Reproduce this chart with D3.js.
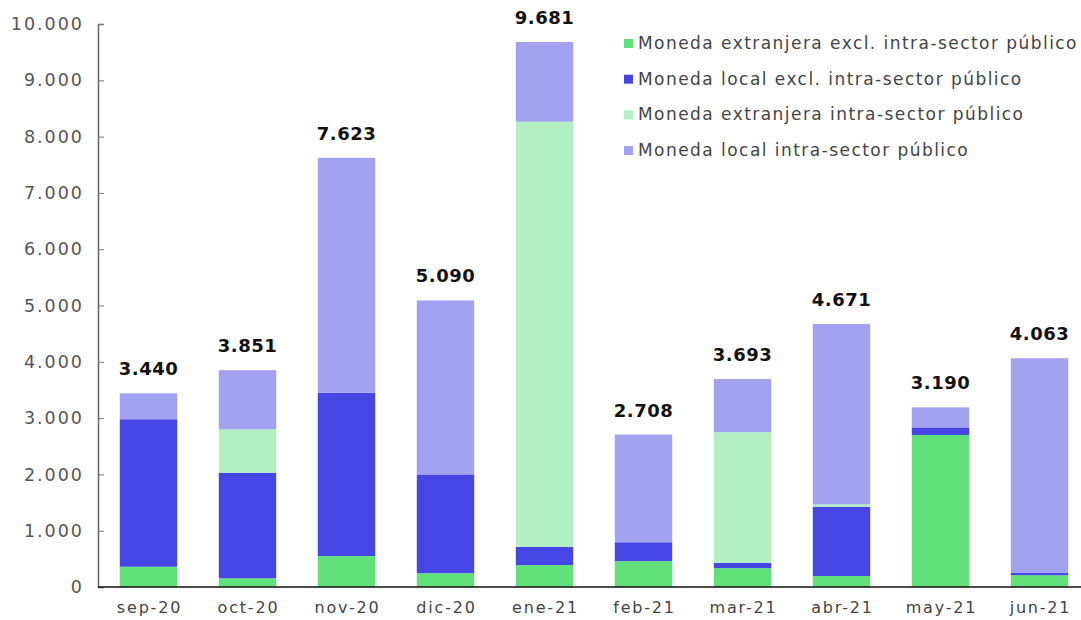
<!DOCTYPE html>
<html>
<head>
<meta charset="utf-8">
<script src="https://cdn.jsdelivr.net/npm/d3@7"></script>
<style>
  body { margin: 0; background: #fff; }
  svg { display: block; font-family: "DejaVu Sans", sans-serif; }
</style>
</head>
<body>
<svg id="chart" width="1081" height="620"></svg>
<script>
// Categories (months)
var months = ['sep-20', 'oct-20', 'nov-20', 'dic-20', 'ene-21', 'feb-21', 'mar-21', 'abr-21', 'may-21', 'jun-21'];

// Series values
var extranjeraExcl = [360, 155, 550, 245, 390, 460, 335, 195, 2700, 210];
var localExcl      = [2620, 1875, 2900, 1755, 325, 335, 95, 1230, 135, 45];
var extranjeraIntra = [0, 770, 0, 0, 7550, 0, 2320, 45, 0, 0];
var localIntra     = [460, 1051, 4173, 3090, 1416, 1913, 943, 3201, 355, 3808];

var seriesNames = [
    'Moneda extranjera excl. intra-sector público',
    'Moneda local excl. intra-sector público',
    'Moneda extranjera intra-sector público',
    'Moneda local intra-sector público'
];
var seriesColors = ['#62e07a', '#4646e4', '#b2efc2', '#a2a2f0'];
var yTicks = [0, 1000, 2000, 3000, 4000, 5000, 6000, 7000, 8000, 9000, 10000];

var svg = d3.select('#chart');
var fmt = function (v) {
    return d3.format(',')(v).replace(/,/g, '.');
};

// Build rows for the stack
var keys = ['a', 'b', 'c', 'd'];
var rows = months.map(function (m, i) {
    return { month: m, a: extranjeraExcl[i], b: localExcl[i], c: extranjeraIntra[i], d: localIntra[i] };
});
var stacked = d3.stack().keys(keys)(rows);

var x = d3.scaleBand()
    .domain(months)
    .range([99, 1089])
    .paddingInner(0.42)
    .paddingOuter(0.21);

var y = d3.scaleLinear()
    .domain([0, 10000])
    .range([587, 24]);

// Y axis
var yAxis = svg.append('g')
    .attr('class', 'y-axis')
    .attr('transform', 'translate(98,0)')
    .call(d3.axisRight(y).tickValues(yTicks).tickSize(6).tickFormat(function () { return ''; }));
yAxis.select('.domain').attr('stroke', '#666').attr('stroke-width', 1.5);
yAxis.selectAll('.tick line').attr('stroke', '#777');

svg.append('g')
    .attr('class', 'y-labels')
    .selectAll('text')
    .data(yTicks)
    .enter()
    .append('text')
    .attr('x', 84)
    .attr('y', function (d) { return y(d); })
    .attr('dy', '0.35em')
    .attr('text-anchor', 'end')
    .attr('fill', '#555')
    .attr('font-size', 17.5)
    .attr('letter-spacing', 2)
    .text(fmt);

// Bars
svg.append('g')
    .attr('class', 'bars')
    .selectAll('g')
    .data(stacked)
    .enter()
    .append('g')
    .attr('fill', function (d, i) { return seriesColors[i]; })
    .selectAll('rect')
    .data(function (d) { return d; })
    .enter()
    .append('rect')
    .attr('x', function (d) { return x(d.data.month); })
    .attr('width', x.bandwidth())
    .attr('y', function (d) { return y(d[1]); })
    .attr('height', function (d) { return y(d[0]) - y(d[1]); });

// X axis line
svg.append('line')
    .attr('x1', 98)
    .attr('x2', 1081)
    .attr('y1', y(0))
    .attr('y2', y(0))
    .attr('stroke', '#111')
    .attr('stroke-width', 1.5);

svg.append('g')
    .attr('class', 'x-labels')
    .selectAll('text')
    .data(months)
    .enter()
    .append('text')
    .attr('x', function (d) { return x(d) + x.bandwidth() / 2 + 1; })
    .attr('y', 613)
    .attr('text-anchor', 'middle')
    .attr('fill', '#444')
    .attr('font-size', 16)
    .attr('letter-spacing', 1.8)
    .text(function (d) { return d; });

// Totals above bars
svg.append('g')
    .attr('class', 'totals')
    .selectAll('text')
    .data(rows)
    .enter()
    .append('text')
    .attr('x', function (d) { return x(d.month) + x.bandwidth() / 2; })
    .attr('y', function (d) { return y(d.a + d.b + d.c + d.d) - 18; })
    .attr('text-anchor', 'middle')
    .attr('fill', '#111')
    .attr('font-size', 18)
    .attr('font-weight', 'bold')
    .attr('letter-spacing', 0.5)
    .text(function (d) { return fmt(d.a + d.b + d.c + d.d); });

// Legend
var legend = svg.append('g')
    .attr('class', 'legend')
    .selectAll('g')
    .data(seriesNames)
    .enter()
    .append('g')
    .attr('transform', function (d, i) { return 'translate(624,' + (43 + i * 35.7) + ')'; });

legend.append('rect')
    .attr('x', 0)
    .attr('y', -4)
    .attr('width', 9)
    .attr('height', 9)
    .attr('fill', function (d, i) { return seriesColors[i]; });

legend.append('text')
    .attr('x', 14)
    .attr('dy', '0.35em')
    .attr('fill', '#444')
    .attr('font-size', 17)
    .attr('letter-spacing', 1.45)
    .text(function (d) { return d; });
</script>
</body>
</html>
